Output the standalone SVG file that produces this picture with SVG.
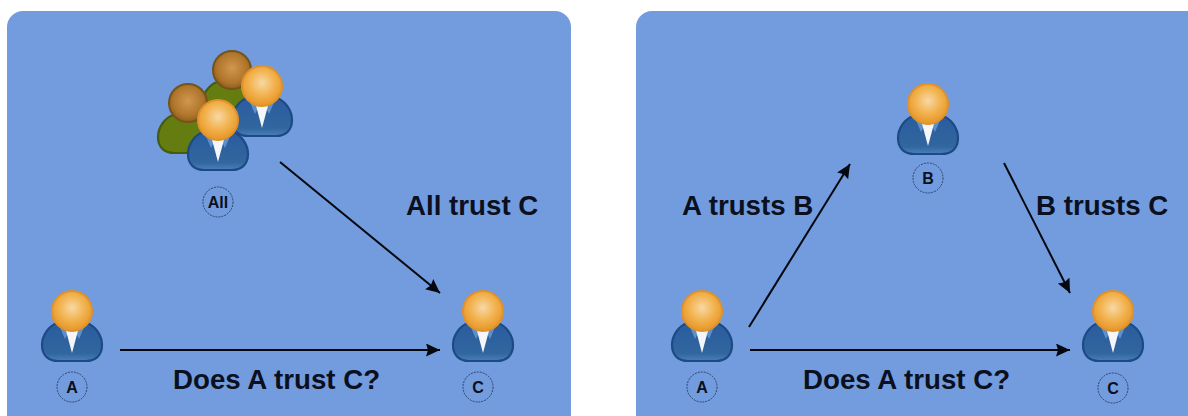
<svg xmlns="http://www.w3.org/2000/svg" width="1188" height="416" viewBox="0 0 1188 416">
<style>
.panel{fill:#729cdd}
.lbl{font-family:"Liberation Sans",Arial,sans-serif;font-weight:700;font-size:27.7px;fill:#0b1020}
.tag{font-family:"Liberation Sans",Arial,sans-serif;font-weight:700;font-size:16px;fill:#0b1020;text-anchor:middle}
.ring{fill:none;stroke:#2c4470;stroke-width:1;stroke-dasharray:2 1}
.conn{stroke:#05080f;stroke-width:2;fill:none;marker-end:url(#arrow)}
</style>
<defs>
<marker id="arrow" markerUnits="userSpaceOnUse" markerWidth="16" markerHeight="14" refX="14" refY="6.5" orient="auto"><path d="M0 0L14 6.5L0 13L2 6.5Z" fill="#05080f"/></marker>
<radialGradient id="headO" cx="0.5" cy="0.42" r="0.55"><stop offset="0" stop-color="#f8d8a6"/><stop offset="0.55" stop-color="#f2b452"/><stop offset="1" stop-color="#e8982a"/></radialGradient>
<radialGradient id="headB" cx="0.5" cy="0.45" r="0.55"><stop offset="0" stop-color="#d2964e"/><stop offset="0.7" stop-color="#b0762c"/><stop offset="1" stop-color="#8f5e1c"/></radialGradient>
<linearGradient id="suit" x1="0" y1="0" x2="0" y2="1"><stop offset="0" stop-color="#2a5c9e"/><stop offset="0.8" stop-color="#31669f"/><stop offset="1" stop-color="#4a7fbe"/></linearGradient>
<g id="person">
<path d="M-15 12C-23 15-30 24-30 34C-30 45-23 50-14 50H14C23 50 30 45 30 34C30 24 23 15 15 12Z" fill="url(#suit)" stroke="#1c4a84" stroke-width="2.2"/>
<path d="M-13 14L-7 28L-3 20ZM13 14L7 28L3 20Z" fill="#5f8fc6"/>
<path d="M-7 16L0 42L7 16Z" fill="#f4f6fa"/>
<circle r="20" fill="url(#headO)" stroke="#e0922a" stroke-width="2"/>
</g>
<g id="personG">
<path d="M-15 12C-23 15-30 24-30 34C-30 45-23 50-14 50H14C23 50 30 45 30 34C30 24 23 15 15 12Z" fill="#647c10" stroke="#465a10" stroke-width="2.2"/>
<circle r="19" fill="url(#headB)" stroke="#74531c" stroke-width="2"/>
</g>
</defs>
<rect id="panel-left" class="panel" x="7" y="11" width="564" height="420" rx="16"/>
<rect id="panel-right" class="panel" x="636" y="11" width="570" height="420" rx="16"/>
<g id="connectors">
<path class="conn" d="M280 162L440 293"/>
<path class="conn" d="M120 350H440"/>
<path class="conn" d="M749 327L850 164"/>
<path class="conn" d="M1004 163L1070 293"/>
<path class="conn" d="M750 350H1070"/>
</g>
<g id="node-all">
<use href="#personG" x="232" y="70"/>
<use href="#person" x="262" y="86"/>
<use href="#personG" x="188" y="103"/>
<use href="#person" x="218" y="120"/>
<circle class="ring" cx="218" cy="202" r="15"/><text class="tag" x="218" y="208">All</text>
</g>
<g id="node-a-left"><use href="#person" x="72" y="311"/><circle class="ring" cx="72" cy="387" r="15"/><text class="tag" x="72" y="393">A</text></g>
<g id="node-c-left"><use href="#person" x="483" y="311"/><circle class="ring" cx="478" cy="387" r="15"/><text class="tag" x="478" y="393">C</text></g>
<g id="node-a-right"><use href="#person" x="702" y="311"/><circle class="ring" cx="702" cy="387" r="15"/><text class="tag" x="702" y="393">A</text></g>
<g id="node-b-right"><use href="#person" x="928" y="104"/><circle class="ring" cx="928" cy="178" r="15"/><text class="tag" x="928" y="184">B</text></g>
<g id="node-c-right"><use href="#person" x="1113" y="311"/><circle class="ring" cx="1113" cy="388" r="15"/><text class="tag" x="1113" y="394">C</text></g>
<text class="lbl" x="406" y="215">All trust C</text>
<text class="lbl" x="173" y="389">Does A trust C?</text>
<text class="lbl" x="682" y="215">A trusts B</text>
<text class="lbl" x="1036" y="215">B trusts C</text>
<text class="lbl" x="803" y="389">Does A trust C?</text>
</svg>
